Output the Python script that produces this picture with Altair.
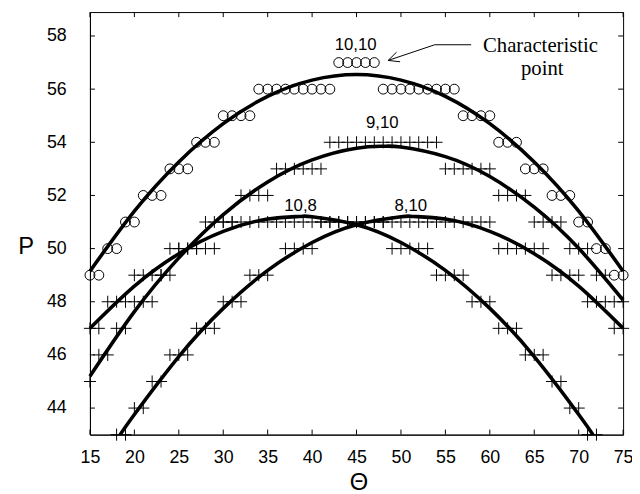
import altair as alt
import pandas as pd

# ---------------- axes ----------------
X_DOMAIN = [15, 75]
Y_DOMAIN = [43, 58.9]
X_TICKS = [15, 20, 25, 30, 35, 40, 45, 50, 55, 60, 65, 70, 75]
Y_TICKS = [44, 46, 48, 50, 52, 54, 56, 58]
TICK_LEN_P = 0.19   # inward tick length for x ticks, in P units
TICK_LEN_X = 0.56   # inward tick length for y ticks, in degrees

# ---------------- markers ----------------
# series 10,10 (circles)
c1010_x = [15, 16, 17, 18, 19, 20, 21, 22, 23, 24, 25, 26, 27, 28, 29, 30, 31, 32, 33,
           34, 35, 36, 37, 38, 39, 40, 41, 42, 43, 44, 45, 46, 47,
           48, 49, 50, 51, 52, 53, 54, 55, 56, 57, 58, 59, 60, 61, 62, 63,
           64, 65, 66, 67, 68, 69, 70, 71, 72, 73, 74, 75]
c1010_p = [49, 49, 50, 50, 51, 51, 52, 52, 52, 53, 53, 53, 54, 54, 54, 55, 55, 55, 55,
           56, 56, 56, 56, 56, 56, 56, 56, 56, 57, 57, 57, 57, 57,
           56, 56, 56, 56, 56, 56, 56, 56, 56, 55, 55, 55, 55, 54, 54, 54,
           53, 53, 53, 52, 52, 52, 51, 51, 50, 50, 49, 49]

# series 9,10 (crosses)
c910_x = [15, 16, 17, 18, 19, 20, 21, 22, 23, 24, 25, 26, 27, 28, 29, 30, 31,
          32, 33, 34, 35, 36, 37, 38, 39, 40, 41,
          42, 43, 44, 45, 46, 47, 48, 49, 50, 51, 52, 53, 54,
          55, 56, 57, 58, 59, 60, 61, 62, 63, 64, 65, 66, 67, 68,
          69, 70, 71, 72, 73, 74, 75]
c910_p = [45, 46, 46, 47, 47, 48, 48, 48, 49, 49, 50, 50, 50, 51, 51, 51, 51,
          52, 52, 52, 52, 53, 53, 53, 53, 53, 53,
          54, 54, 54, 54, 54, 54, 54, 54, 54, 54, 54, 54, 54,
          53, 53, 53, 53, 53, 53, 52, 52, 52, 52, 51, 51, 51, 51,
          50, 50, 50, 49, 49, 48, 48]

# series 10,8 (crosses)
c108_x = [15, 16, 17, 18, 19, 20, 21, 22, 23, 24, 25, 26, 27, 28, 29,
          30, 31, 32, 33, 34, 35, 36, 37, 38, 39, 40, 41, 42, 43, 44, 45, 46, 47, 48,
          49, 50, 51, 52, 53, 54, 55, 56, 57, 58, 59, 60, 61, 62, 63,
          64, 65, 66, 67, 68, 69, 70, 71, 72]
c108_p = [47, 47, 48, 48, 48, 49, 49, 49, 49, 50, 50, 50, 50, 50, 50,
          51, 51, 51, 51, 51, 51, 51, 51, 51, 51, 51, 51, 51, 51, 51, 51, 51, 51, 51,
          50, 50, 50, 50, 50, 49, 49, 49, 49, 48, 48, 48, 47, 47, 47,
          46, 46, 46, 45, 45, 44, 44, 43, 43]

# series 8,10 (crosses)
c810_x = [18, 19, 20, 21, 22, 23, 24, 25, 26, 27, 28, 29, 30, 31, 32, 33, 34, 35,
          37, 38, 39, 40,
          41, 42, 43, 44, 45, 46, 47, 48, 49, 50, 51, 52, 53, 54, 55, 56, 57, 58, 59, 60,
          61, 62, 63, 64, 65, 66, 67, 68, 69, 70, 71, 72, 73, 74, 75]
c810_p = [43, 43, 44, 44, 45, 45, 46, 46, 46, 47, 47, 47, 48, 48, 48, 49, 49, 49,
          50, 50, 50, 50,
          51, 51, 51, 51, 51, 51, 51, 51, 51, 51, 51, 51, 51, 51, 51, 51, 51, 51, 51, 51,
          50, 50, 50, 50, 50, 50, 49, 49, 49, 49, 48, 48, 48, 47, 47]

# ---------------- fitted curves ----------------
curve1010_x = [15, 20, 25, 30, 35, 40, 45, 50, 55, 60, 65, 70, 75]
curve1010_p = [49.15, 51.41, 53.26, 54.70, 55.73, 56.34, 56.55, 56.34, 55.73, 54.70, 53.26, 51.41, 49.15]
curve910_x = [15, 20, 25, 30, 35, 40, 45, 48, 50, 55, 60, 65, 70, 75]
curve910_p = [45.20, 47.63, 49.65, 51.28, 52.51, 53.34, 53.78, 53.85, 53.82, 53.46, 52.71, 51.56, 50.01, 48.06]
curve108_x = [15, 20, 25, 30, 35, 38.6, 40, 45, 50, 55, 60, 65, 70, 71.6]
curve108_p = [47.00, 48.59, 49.81, 50.65, 51.11, 51.21, 51.20, 50.90, 50.23, 49.18, 47.75, 45.94, 43.76, 43.0]
curve810_x = [18.4, 20, 25, 30, 35, 40, 45, 50, 51.4, 55, 60, 65, 70, 75]
curve810_p = [43.0, 43.76, 45.94, 47.75, 49.18, 50.23, 50.90, 51.20, 51.21, 51.11, 50.65, 49.81, 48.59, 47.00]

# ---------------- labels ----------------
label_text = ["10,10", "9,10", "10,8", "8,10"]
label_x = [44.9, 47.9, 38.7, 51.1]
label_p = [57.67, 54.74, 51.6, 51.6]

note_text = ["Characteristic", "point"]
note_x = [65.7, 65.9]
note_p = [57.62, 56.74]

# arrow: shaft polyline + two head wings
arrow_seg = ["shaft", "shaft", "shaft", "w1", "w1", "w2", "w2"]
arrow_ord = [0, 1, 2, 0, 1, 0, 1]
arrow_x = [57.9, 53.8, 48.56, 48.56, 49.9, 48.56, 49.5]
arrow_p = [57.67, 57.67, 57.08, 57.08, 57.03, 57.08, 57.39]

# ---------------- data frames ----------------
circles = pd.DataFrame({"x": c1010_x, "P": c1010_p})
crosses = pd.concat([
    pd.DataFrame({"x": c910_x, "P": c910_p, "s": "9,10"}),
    pd.DataFrame({"x": c108_x, "P": c108_p, "s": "10,8"}),
    pd.DataFrame({"x": c810_x, "P": c810_p, "s": "8,10"}),
])
curves = pd.concat([
    pd.DataFrame({"x": curve1010_x, "P": curve1010_p, "s": "10,10"}),
    pd.DataFrame({"x": curve910_x, "P": curve910_p, "s": "9,10"}),
    pd.DataFrame({"x": curve108_x, "P": curve108_p, "s": "10,8"}),
    pd.DataFrame({"x": curve810_x, "P": curve810_p, "s": "8,10"}),
])
labels = pd.DataFrame({"x": label_x, "P": label_p, "t": label_text})
notes = pd.DataFrame({"x": note_x, "P": note_p, "t": note_text})
arrow = pd.DataFrame({"x": arrow_x, "P": arrow_p, "seg": arrow_seg, "o": arrow_ord})

xticks_df = pd.concat([
    pd.DataFrame({"x": X_TICKS, "P": Y_DOMAIN[0], "P2": Y_DOMAIN[0] + TICK_LEN_P}),
    pd.DataFrame({"x": X_TICKS, "P": Y_DOMAIN[1], "P2": Y_DOMAIN[1] - TICK_LEN_P}),
])
yticks_df = pd.concat([
    pd.DataFrame({"x": X_DOMAIN[0], "x2": X_DOMAIN[0] + TICK_LEN_X, "P": Y_TICKS}),
    pd.DataFrame({"x": X_DOMAIN[1], "x2": X_DOMAIN[1] - TICK_LEN_X, "P": Y_TICKS}),
])

FONT = "Liberation Sans"

xaxis = alt.Axis(values=X_TICKS, ticks=False, tickSize=0, labelPadding=14,
                 labelFontSize=18, labelFont=FONT, labelColor="black",
                 domainColor="black", grid=False, labelFlush=False,
                 title="Θ", titleFont=FONT, titleFontSize=24, titleFontWeight="normal",
                 titleColor="black", titleX=272, titleY=49,
                 titleAlign="center", titleBaseline="middle")
yaxis = alt.Axis(values=Y_TICKS, ticks=False, tickSize=0, labelPadding=24,
                 labelFontSize=18, labelFont=FONT, labelColor="black",
                 domainColor="black", grid=False, labelFlush=False,
                 title="P", titleFont=FONT, titleFontSize=24, titleFontWeight="normal",
                 titleColor="black", titleAngle=0, titleX=-65, titleY=238,
                 titleAlign="center", titleBaseline="middle")

X = alt.X("x:Q", scale=alt.Scale(domain=X_DOMAIN, nice=False, zero=False), axis=xaxis)
Y = alt.Y("P:Q", scale=alt.Scale(domain=Y_DOMAIN, nice=False, zero=False), axis=yaxis)

xtick_layer = alt.Chart(xticks_df).mark_rule(color="black", strokeWidth=1).encode(
    x=X, y=Y, y2="P2:Q")
ytick_layer = alt.Chart(yticks_df).mark_rule(color="black", strokeWidth=1).encode(
    x=X, x2="x2:Q", y=Y)

curve_layer = alt.Chart(curves).mark_line(
    color="black", strokeWidth=3.6, interpolate="natural"
).encode(x=X, y=Y, detail="s:N")

circle_layer = alt.Chart(circles).mark_point(
    shape="circle", filled=False, color="black", size=100, strokeWidth=1, opacity=1
).encode(x=X, y=Y)

cross_layer = alt.Chart(crosses).mark_point(
    shape="M-1,0H1M0,-1V1", filled=False, color="black", size=150, strokeWidth=1, opacity=1
).encode(x=X, y=Y)

label_layer = alt.Chart(labels).mark_text(
    font=FONT, fontSize=17, color="black", align="center", baseline="middle"
).encode(x=X, y=Y, text="t:N")

note_layer = alt.Chart(notes).mark_text(
    font="Liberation Serif", fontSize=21, color="black", align="center", baseline="middle"
).encode(x=X, y=Y, text="t:N")

arrow_layer = alt.Chart(arrow).mark_line(color="black", strokeWidth=1).encode(
    x=X, y=Y, detail="seg:N", order="o:Q")

chart = alt.layer(
    xtick_layer, ytick_layer,
    curve_layer, circle_layer, cross_layer, label_layer, note_layer, arrow_layer
).properties(
    width=540, height=428,
    autosize=alt.AutoSizeParams(type="none"),
    padding={"left": 83, "top": 1, "right": 9, "bottom": 57},
    background="white",
).configure_view(stroke="black", strokeWidth=1)

chart.save("out.html", embed_options={"renderer": "svg", "actions": False})
